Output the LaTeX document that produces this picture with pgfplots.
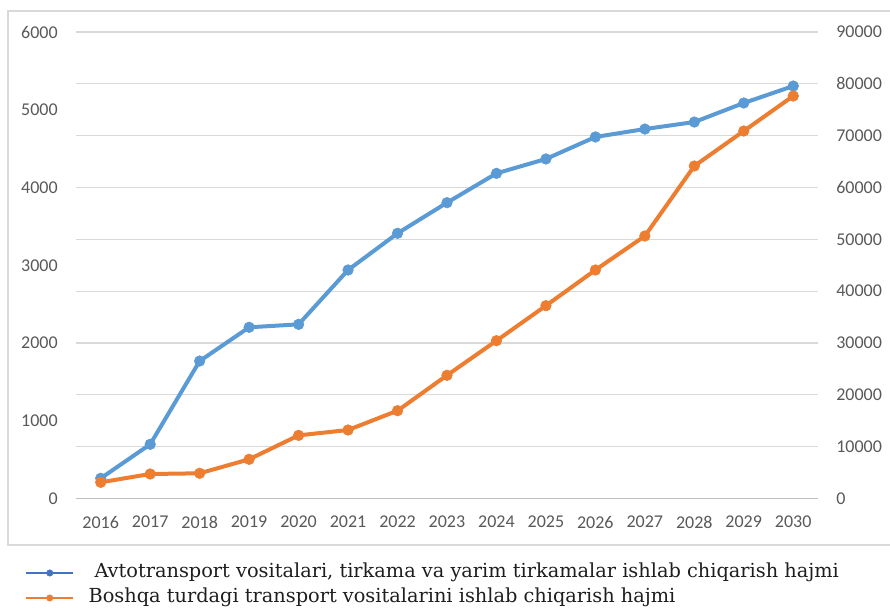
\documentclass[border=0pt]{standalone}
\usepackage{pgfplots}
\pgfplotsset{compat=1.18}
\usepackage{fontspec}
\setmainfont{Carlito}
\newfontfamily\legfont{DejaVu Serif}
\definecolor{cblue}{HTML}{5B9BD5}
\definecolor{corange}{HTML}{ED7D31}
\definecolor{lblue}{HTML}{4472C4}
\definecolor{tickgray}{HTML}{595959}
\definecolor{gridgray}{HTML}{D9D9D9}
\definecolor{axgray}{HTML}{BFBFBF}
\definecolor{legtext}{HTML}{1E1E1E}
\pgfplotsset{
  every tick label/.append style={font=\fontsize{13.5}{16}\selectfont, text=tickgray},
  /pgf/number format/assume math mode=true,
  /pgf/number format/1000 sep={},
}
\begin{document}
\begin{tikzpicture}[x=0.75pt,y=0.75pt]
\useasboundingbox (-76,-116.5) rectangle (814,498.5);
\draw[gridgray, line width=1pt] (830,-46.5) -- (-68,-46.5) -- (-68,487.5) -- (830,487.5);
\begin{axis}[
  scale only axis, width=556.5pt, height=349.875pt,
  xmin=2015.5, xmax=2030.5, ymin=0, ymax=6000,
  axis x line*=bottom, axis y line*=left,
  x axis line style={draw=axgray, line width=1.2pt},
  y axis line style={draw=none},
  xtick={2016,2017,...,2030},
  ytick={0,1000,...,6000},
  major tick length=0pt,
  xticklabel style={anchor=north, inner sep=0pt, yshift=-13pt},
  yticklabel style={anchor=east, inner sep=0pt, xshift=-13.5pt},
  extra y ticks={666.667,1333.333,2000,2666.667,3333.333,4000,4666.667,5333.333,6000},
  extra y tick labels={},
  extra y tick style={grid=major, major grid style={draw=gridgray, line width=0.8pt}},
  scaled y ticks=false,
]
\addplot[cblue, line width=3pt, mark=*, mark size=4pt, mark options={solid, fill=cblue, draw=cblue, line width=0.4pt}] coordinates {
(2016,260) (2017,697) (2018,1768) (2019,2202) (2020,2240) (2021,2939) (2022,3411) (2023,3805)
(2024,4182) (2025,4367) (2026,4650) (2027,4752) (2028,4842) (2029,5087) (2030,5305)};
\end{axis}
\begin{axis}[
  scale only axis, width=556.5pt, height=349.875pt,
  xmin=2015.5, xmax=2030.5, ymin=0, ymax=90000,
  axis x line=none, axis y line*=right,
  y axis line style={draw=none},
  xtick=\empty,
  ytick={0,10000,...,90000},
  major tick length=0pt,
  yticklabel style={anchor=west, inner sep=0pt, xshift=13.5pt},
  scaled y ticks=false,
  legend image code/.code={
    \draw[#1, mark repeat=2, mark phase=2] plot coordinates {(0pt,0pt) (17.5pt,0pt) (35pt,0pt)};
  },
  legend cell align=left,
  legend style={
    draw=none, fill=none, inner sep=0pt, outer sep=0pt,
    at={(axis description cs:-0.0688,-0.1865)}, anchor=west,
    font=\legfont\fontsize{14.5}{17}\selectfont, text=legtext,
    nodes={inner sep=0pt, text height=10.5pt, text depth=3.3pt},
    row sep=4.95pt,
    /tikz/every odd column/.append style={column sep=10.5pt},
  },
]
\addlegendimage{lblue, line width=2.2pt, mark=*, mark size=2.4pt, mark options={solid, fill=lblue, draw=lblue, line width=0.4pt}}
\addlegendentry{\hspace{4.5pt}Avtotransport vositalari, tirkama va yarim tirkamalar ishlab chiqarish hajmi}
\addlegendimage{corange, line width=2.2pt, mark=*, mark size=2.4pt, mark options={solid, fill=corange, draw=corange, line width=0.4pt}}
\addlegendentry{Boshqa turdagi transport vositalarini ishlab chiqarish hajmi}
\addplot[forget plot, corange, line width=3pt, mark=*, mark size=4pt, mark options={solid, fill=corange, draw=corange, line width=0.4pt}] coordinates {
(2016,3125) (2017,4727) (2018,4862) (2019,7563) (2020,12180) (2021,13215) (2022,16940) (2023,23770)
(2024,30445) (2025,37200) (2026,44085) (2027,50645) (2028,64150) (2029,70900) (2030,77655)};
\end{axis}
\end{tikzpicture}
\end{document}
